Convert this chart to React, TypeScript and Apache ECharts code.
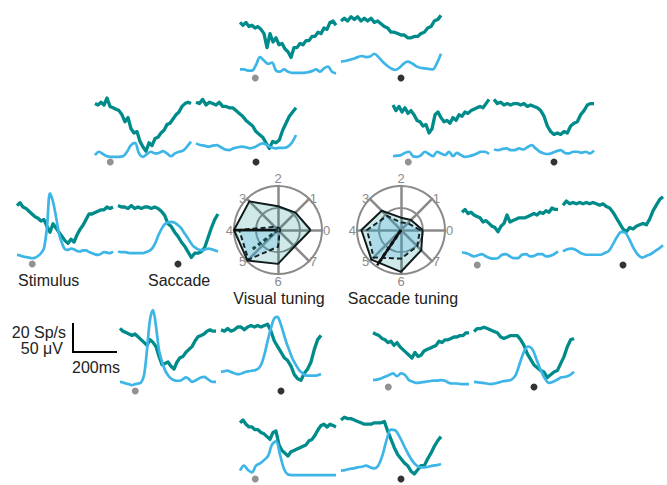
import React, { useEffect, useRef } from "react";
import * as echarts from "echarts";

// ---------- time ranges (ms) ----------
const STIM_RANGE = [-70, 370];
const SACC_RANGE = [-270, 180];

// ---------- direction 2 (top) ----------
const tealStim2 = [44,42,44,41,42,40,41,39,36,26,36,30,33,28,29,25,23,19,26,26,29,28,31,31,34,34,37,36,40,39,44,45,42];
const tealSacc2 = [45,47,45,48,46,48,45,47,45,47,44,45,43,41,40,37,37,36,35,35,33,33,34,34,36,37,40,41,45,46,49];
const blueStim2 = [-94,-94,-96,-96,-86,-72,-78,-84,-82,-96,-98,-94,-98,-100,-100,-100,-100,-99,-97,-94,-98,-92,-89,-98,-101];
const blueSacc2 = [-80,-79,-77,-75,-72,-70,-72,-71,-66,-72,-80,-87,-92,-95,-91,-84,-80,-83,-88,-91,-92,-93,-94,-83,-66];

// ---------- direction 1 (upper right) ----------
const tealStim1 = [45,41,44,40,43,39,41,38,34,33,30,31,25,28,38,40,36,33,34,32,36,34,38,37,40,39,41,42,43,44,43,46,49];
const tealSacc1 = [49,46,47,45,46,45,46,46,45,46,44,45,44,43,41,37,30,26,24,25,24,26,25,30,32,33,38,41,45,46,46];
const blueStim1 = [-99,-98,-97,-93,-91,-99,-100,-97,-91,-95,-99,-91,-94,-97,-91,-99,-93,-97,-100,-99,-97,-94,-91,-91,-95];
const blueSacc1 = [-87,-88,-86,-85,-88,-88,-85,-87,-83,-79,-85,-91,-94,-95,-93,-90,-88,-93,-94,-91,-91,-93,-91,-94,-89];

// ---------- direction 3 (upper left) ----------
const tealStim3 = [46,45,47,45,50,44,43,42,41,38,33,36,28,25,26,19,15,12,18,16,21,22,25,27,31,32,35,38,40,44,46,47,46];
const tealSacc3 = [47,46,49,45,47,46,45,47,44,44,43,43,41,39,37,34,32,30,26,24,22,18,14,19,18,20,27,32,37,40,43];
const blueStim3 = [-97,-91,-95,-99,-100,-100,-100,-99,-91,-79,-75,-94,-100,-95,-91,-94,-93,-90,-94,-99,-94,-91,-89,-82,-73];
const blueSacc3 = [-76,-79,-80,-82,-80,-79,-83,-87,-88,-85,-83,-82,-83,-85,-83,-79,-76,-79,-83,-85,-84,-84,-82,-75,-61];

// ---------- direction 4 (left) ----------
const tealStim4 = [46,48,45,44,42,40,38,37,35,36,31,27,33,30,27,24,21,19,22,20,25,29,32,36,40,40,41,42,43,43,45,44,45];
const tealSacc4 = [46,45,45,44,46,44,45,44,45,45,44,45,44,42,39,33,31,27,24,20,17,13,9,12,12,13,16,23,30,36,40];
const blueStim4 = [-93,-94,-96,-97,-98,-99,-98,-95,-90,-81,-43,17,2,-25,-55,-72,-83,-84,-82,-83,-86,-87,-85,-85,-88,-90,-92,-93,-91,-88,-89,-90,-87];
const blueSacc4 = [-87,-88,-88,-89,-90,-90,-90,-90,-90,-88,-86,-81,-71,-57,-46,-38,-35,-34,-35,-39,-44,-52,-60,-69,-77,-81,-84,-85,-83,-82,-83,-85,-87];

// ---------- direction 0 (right) ----------
const tealStim0 = [42,44,41,42,40,39,38,35,36,34,32,31,28,32,34,40,35,36,37,38,38,38,39,40,41,40,42,41,43,42,45,44,44];
const tealSacc0 = [47,50,48,49,48,49,48,49,48,49,48,47,48,46,45,42,38,34,30,28,31,30,32,33,34,33,37,43,47,51,53];
const blueStim0 = [-87,-88,-91,-94,-92,-90,-94,-97,-98,-97,-91,-90,-94,-97,-97,-91,-90,-94,-93,-90,-90,-94,-93,-90,-85];
const blueSacc0 = [-85,-81,-80,-82,-87,-90,-91,-91,-91,-91,-88,-84,-72,-59,-50,-52,-65,-80,-91,-96,-93,-90,-85,-80,-74];

// ---------- direction 5 (lower left) ----------
const tealStim5 = [49,47,46,45,44,45,43,41,39,37,41,39,36,29,23,24,25,22,20,25,28,29,32,34,36,40,43,44,45,47,48,47,47];
const tealSacc5 = [48,47,49,47,48,50,50,48,50,51,50,51,50,51,52,47,40,36,32,28,26,22,16,13,12,17,20,25,34,41,44];
const blueStim5 = [-93,-94,-96,-97,-99,-97,-96,-94,-81,-36,18,35,6,-36,-57,-72,-81,-87,-90,-91,-91,-88,-85,-88,-93,-91,-88,-85,-84,-87,-91,-93,-93];
const blueSacc5 = [-75,-74,-73,-75,-77,-79,-79,-77,-75,-74,-73,-72,-69,-60,-42,-18,3,20,23,12,-6,-24,-39,-53,-63,-72,-77,-81,-82,-82,-82,-81,-79];

// ---------- direction 7 (lower right) ----------
const tealStim7 = [43,42,41,39,38,36,37,34,36,33,31,29,27,25,29,26,27,30,31,32,33,34,37,36,38,38,39,40,40,41,41,43,43];
const tealSacc7 = [44,46,46,47,46,45,44,43,40,39,40,41,41,41,38,34,28,24,20,18,16,15,11,13,15,16,21,26,33,38,39];
const blueStim7 = [-97,-96,-94,-91,-88,-85,-90,-85,-88,-97,-100,-102,-101,-100,-99,-98,-98,-97,-98,-102,-103,-103,-104,-104,-104];
const blueSacc7 = [-100,-101,-102,-103,-104,-103,-101,-99,-98,-96,-88,-67,-46,-37,-42,-60,-79,-94,-102,-100,-96,-92,-91,-88,-82];

// ---------- direction 6 (bottom) ----------
const tealStim6 = [45,47,44,42,42,40,40,38,37,35,33,38,39,29,25,23,21,24,25,26,27,28,29,32,33,36,40,43,44,42,44,43,42];
const tealSacc6 = [47,49,48,48,47,46,45,44,44,44,45,45,45,46,39,33,27,22,19,16,14,10,8,11,14,14,19,23,28,32,35];
const blueStim6 = [-94,-85,-93,-97,-85,-81,-75,-68,-47,-41,-65,-91,-101,-102,-102,-102,-102,-102,-102,-102,-102,-102,-102,-102,-102];
const blueSacc6 = [-94,-93,-91,-90,-88,-87,-85,-88,-90,-84,-65,-37,-20,-21,-32,-47,-62,-75,-84,-88,-88,-87,-85,-84,-82];

// ---------- tuning (normalised, directions 0..7) ----------
const DIR_LABELS = ["0", "1", "2", "3", "4", "5", "6", "7"];
const visualSpike = [0.74, 0.56, 0.54, 0.92, 1.0, 0.98, 0.77, 0.53];
const visualLfp = [0.05, 0.05, 0.05, 0.1, 0.88, 0.95, 0.38, 0.05];
const saccadeSpike = [0.49, 0.32, 0.28, 0.62, 0.9, 0.95, 0.95, 0.65];
const saccadeLfp = [0.43, 0.22, 0.17, 0.45, 0.77, 0.88, 0.65, 0.52];
// mean vectors [length, angle in degrees]
const visualSpikeVec = [1.0, 180];
const visualLfpVec = [0.72, 217];
const saccadeSpikeVec = [0.97, 236];
const saccadeLfpVec = [0.92, 236];

const FONT = "'Liberation Sans', Arial, Helvetica, sans-serif";
const TEAL = "#008b8b";
const BLUE = "#3db5e6";
const GRID_H = 80;
const TEAL_MAX = (GRID_H * 20) / 28; // 20 Sp/s = 28 px
const BLUE_MIN = -120;
const BLUE_MAX = BLUE_MIN + (GRID_H * 50) / 28; // 50 uV = 28 px
const DOT_LEVEL = (6 * 20) / 28;

const PANELS = [
  { left: 240, dotY: 78, tealStim: tealStim2, tealSacc: tealSacc2, blueStim: blueStim2, blueSacc: blueSacc2 },
  { left: 393, dotY: 162, tealStim: tealStim1, tealSacc: tealSacc1, blueStim: blueStim1, blueSacc: blueSacc1 },
  { left: 95, dotY: 162, tealStim: tealStim3, tealSacc: tealSacc3, blueStim: blueStim3, blueSacc: blueSacc3 },
  { left: 17, dotY: 264, tealStim: tealStim4, tealSacc: tealSacc4, blueStim: blueStim4, blueSacc: blueSacc4 },
  { left: 462, dotY: 265, tealStim: tealStim0, tealSacc: tealSacc0, blueStim: blueStim0, blueSacc: blueSacc0 },
  { left: 120, dotY: 391, tealStim: tealStim5, tealSacc: tealSacc5, blueStim: blueStim5, blueSacc: blueSacc5 },
  { left: 373, dotY: 387, tealStim: tealStim7, tealSacc: tealSacc7, blueStim: blueStim7, blueSacc: blueSacc7 },
  { left: 240, dotY: 480, tealStim: tealStim6, tealSacc: tealSacc6, blueStim: blueStim6, blueSacc: blueSacc6 },
];

function pairs(range: number[], vals: number[]) {
  const n = vals.length;
  return vals.map((v, i) => [range[0] + ((range[1] - range[0]) * i) / (n - 1), v]);
}

function buildOption() {
  const grids: any[] = [];
  const xAxes: any[] = [];
  const yAxes: any[] = [];
  const series: any[] = [];

  PANELS.forEach((p) => {
    const segs = [
      { left: p.left, width: 96, range: STIM_RANGE, teal: p.tealStim, blue: p.blueStim, dot: "#777777" },
      { left: p.left + 101, width: 100, range: SACC_RANGE, teal: p.tealSacc, blue: p.blueSacc, dot: "#000000" },
    ];
    segs.forEach((s) => {
      const gi = grids.length;
      grids.push({ left: s.left, top: p.dotY + 6 - GRID_H, width: s.width, height: GRID_H });
      xAxes.push({ type: "value", gridIndex: gi, min: s.range[0], max: s.range[1], show: false });
      yAxes.push({ type: "value", gridIndex: gi, min: 0, max: TEAL_MAX, show: false });
      yAxes.push({ type: "value", gridIndex: gi, min: BLUE_MIN, max: BLUE_MAX, show: false });
      series.push({
        type: "line", xAxisIndex: gi, yAxisIndex: 2 * gi, data: pairs(s.range, s.teal),
        symbol: "none", clip: false, silent: true, z: 2,
        lineStyle: { color: TEAL, width: 3.3, join: "round" },
      });
      series.push({
        type: "line", xAxisIndex: gi, yAxisIndex: 2 * gi + 1, data: pairs(s.range, s.blue),
        symbol: "none", smooth: 0.35, clip: false, silent: true, z: 3,
        lineStyle: { color: BLUE, width: 2.7 },
      });
      series.push({
        type: "scatter", xAxisIndex: gi, yAxisIndex: 2 * gi, data: [[0, DOT_LEVEL]],
        symbolSize: 7, silent: true, z: 4, itemStyle: { color: s.dot },
      });
    });
  });

  const radarBase = {
    radius: 44,
    startAngle: 0,
    shape: "circle",
    splitNumber: 2,
    indicator: DIR_LABELS.map((n) => ({ name: n, min: 0, max: 1 })),
    axisName: { color: "#8a8a8a", fontSize: 13, fontFamily: FONT },
    nameGap: 1,
    axisLine: { lineStyle: { color: "#8a8a8a", width: 2.5 } },
    splitLine: { lineStyle: { color: "#8a8a8a", width: 2 } },
    splitArea: { show: false },
    axisTick: { show: false },
    axisLabel: { show: false },
  };

  const radarData = (spike: number[], lfp: number[]) => [
    {
      value: spike,
      symbol: "none",
      lineStyle: { color: "#111", width: 2 },
      areaStyle: { color: "rgba(0,139,139,0.27)" },
    },
    {
      value: lfp,
      symbol: "none",
      lineStyle: { color: "#111", width: 2, type: [5, 3] },
      areaStyle: { color: "rgba(70,175,230,0.35)" },
    },
  ];

  series.push({ type: "radar", radarIndex: 0, silent: true, data: radarData(visualSpike, visualLfp) });
  series.push({ type: "radar", radarIndex: 1, silent: true, data: radarData(saccadeSpike, saccadeLfp) });

  const vec = (pi: number, v: number[], dashed: boolean, color: string) => ({
    type: "line", coordinateSystem: "polar", polarIndex: pi, symbol: "none", silent: true, z: 5,
    data: [[0, v[1]], [v[0], v[1]]],
    lineStyle: { color, width: dashed ? 3 : 2.5, type: dashed ? [4, 3] : "solid" },
  });
  series.push(vec(0, visualSpikeVec, false, "#111"));
  series.push(vec(0, visualLfpVec, true, "#1d4444"));
  series.push(vec(1, saccadeSpikeVec, false, "#111"));
  series.push(vec(1, saccadeLfpVec, true, "#111"));

  const txt = (text: string, x: number, y: number, align: string, size = 16, fill = "#222") => ({
    type: "text", x, y, silent: true,
    style: {
      text, fill, font: `${size}px ${FONT}`, fontSize: size, fontFamily: FONT,
      textAlign: align, textVerticalAlign: "middle", align, verticalAlign: "middle",
    },
  });

  return {
    animation: false,
    backgroundColor: "#ffffff",
    grid: grids,
    xAxis: xAxes,
    yAxis: yAxes,
    radar: [
      { ...radarBase, center: [278, 230] },
      { ...radarBase, center: [401, 230] },
    ],
    polar: [
      { center: [278, 230], radius: 44 },
      { center: [401, 230], radius: 44 },
    ],
    angleAxis: [0, 1].map((i) => ({
      polarIndex: i, type: "value", min: 0, max: 360, startAngle: 0, clockwise: false, show: false,
    })),
    radiusAxis: [0, 1].map((i) => ({ polarIndex: i, type: "value", min: 0, max: 1, show: false })),
    series,
    graphic: [
      txt("Stimulus", 18, 280, "left"),
      txt("Saccade", 148, 280, "left"),
      txt("Visual tuning", 279, 298, "center"),
      txt("Saccade tuning", 403, 298, "center"),
      txt("20 Sp/s", 66, 332, "right"),
      txt("50 \u03bcV", 63, 348, "right"),
      txt("200ms", 72, 367, "left"),
      {
        type: "polyline", silent: true,
        shape: { points: [[73, 323], [73, 352], [117, 352]] },
        style: { stroke: "#000", lineWidth: 2, fill: null },
      },
    ],
  };
}

export default function App() {
  const ref = useRef<HTMLDivElement>(null);
  useEffect(() => {
    if (!ref.current) return;
    const chart = echarts.init(ref.current, undefined, { renderer: "svg" });
    chart.setOption(buildOption() as any);
    return () => chart.dispose();
  }, []);
  return (
    <div
      ref={ref}
      style={{ position: "fixed", left: 0, top: 0, width: 667, height: 485, background: "#fff" }}
    />
  );
}
